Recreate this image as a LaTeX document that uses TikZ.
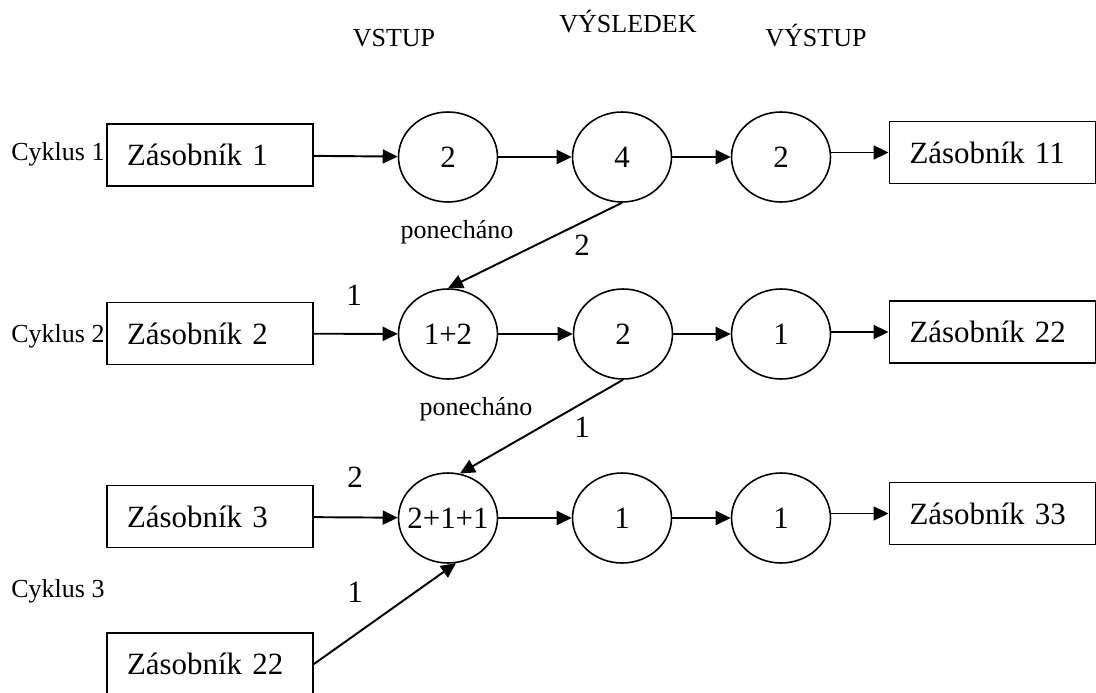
\documentclass[tikz,border=0pt]{standalone}
\usepackage{fontspec}
\setmainfont{Liberation Serif}
\usetikzlibrary{positioning,arrows.meta,shapes.geometric}
\tikzset{
  zas/.style={draw,line width=1.1pt,minimum width=4.12cm,minimum height=1.24cm,text width=3.32cm,inner xsep=0.4cm,align=left,font=\fontsize{17.6}{20}\selectfont},
  krok/.style={draw,ellipse,line width=0.9pt,minimum width=1.98cm,minimum height=1.8cm,inner sep=0pt,font=\fontsize{17.6}{20}\selectfont},
  popis/.style={anchor=base,inner sep=0pt,font=\fontsize{14.8}{17}\selectfont},
  cislo/.style={anchor=base,inner sep=0pt,font=\fontsize{17.6}{20}\selectfont},
  arr/.style={-{Triangle[length=0.3cm,width=0.28cm]},line width=1.1pt},
}
\begin{document}
\begin{tikzpicture}[x=0.02cm,y=-0.02cm]
\useasboundingbox (0,0) rectangle (1096,693);
% headings
\node[popis] (hvstup) at (394,47) {VSTUP};
\node[popis] (hvysl) at (628,32) {VÝSLEDEK};
\node[popis] (hvystup) at (816,47) {VÝSTUP};

% cycle labels
\node[popis] (cyk1) at (58,160) {Cyklus 1};
\node[popis] (cyk2) at (58,342) {Cyklus 2};
\node[popis] (cyk3) at (58,597) {Cyklus 3};

% input stacks
\node[zas] (in1) at (210,155) {Zásobník 1};
\node[zas] (in2) at (210,333.5) {Zásobník 2};
\node[zas] (in3) at (210,516.5) {Zásobník 3};
\node[zas] (in4) at (210,664) {Zásobník 22};

% steps
\node[krok] (vs1) at (448,157) {2};
\node[krok] (vy1) at (622,157) {4};
\node[krok] (vt1) at (781,157) {2};
\node[krok] (vs2) at (448,334) {1+2};
\node[krok] (vy2) at (623,334) {2};
\node[krok] (vt2) at (781,334) {1};
\node[krok] (vs3) at (448,518) {\makebox[0pt]{2+1+1}};
\node[krok] (vy3) at (622,518) {1};
\node[krok] (vt3) at (781,518) {1};

% output stacks
\node[zas] (out1) at (992.5,152.5) {Zásobník 11};
\node[zas] (out2) at (992.5,332) {Zásobník 22};
\node[zas] (out3) at (992.5,513.5) {Zásobník 33};

% arrows
\draw[arr] (in1) -- (vs1);
\draw[arr] (vs1) -- (vy1);
\draw[arr] (vy1) -- (vt1);
\draw[arr] (vt1.east |- out1) -- (out1.west);
\draw[arr] (in2) -- (vs2);
\draw[arr] (vs2) -- (vy2);
\draw[arr] (vy2) -- (vt2);
\draw[arr] (vt2.east |- out2) -- (out2.west);
\draw[arr] (in3) -- (vs3);
\draw[arr] (vs3) -- (vy3);
\draw[arr] (vy3) -- (vt3);
\draw[arr] (vt3.east |- out3) -- (out3.west);
\draw[arr] (vy1.south) -- (vs2.north);
\draw[arr] (vy2.south) -- (vs3.75);
\draw[arr] (in4.east) -- (vs3.-80);

% kept amounts
\node[popis] (pon1) at (457,238) {ponecháno};
\node[popis] (pon2) at (476,415) {ponecháno};
\node[cislo] (n1) at (582,255) {2};
\node[cislo] (n2) at (582,437) {1};
\node[cislo] (n3) at (354,305) {1};
\node[cislo] (n4) at (355,487) {2};
\node[cislo] (n5) at (355,602) {1};
\end{tikzpicture}
\end{document}
